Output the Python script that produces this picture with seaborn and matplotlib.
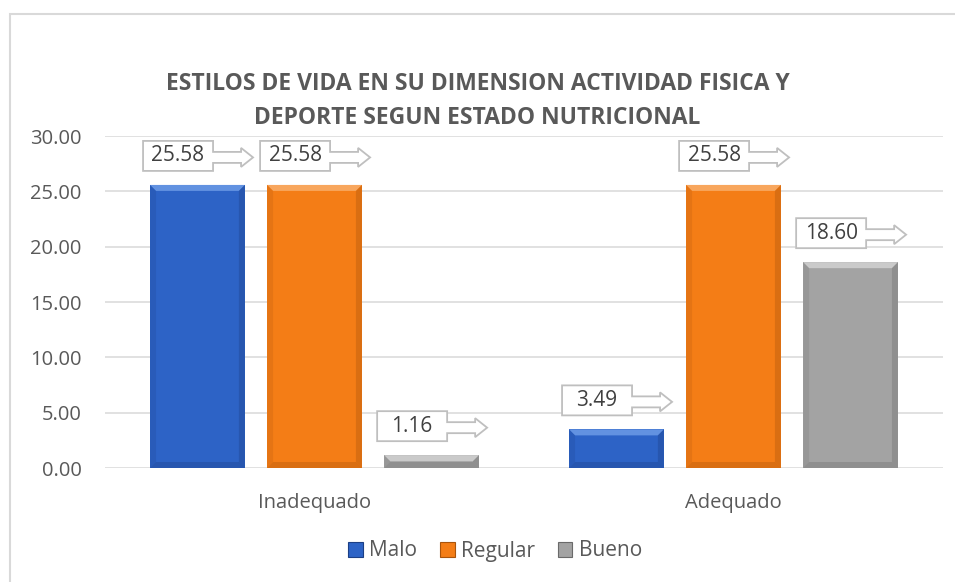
import matplotlib
matplotlib.use("Agg")
import matplotlib.pyplot as plt
import matplotlib.transforms as mtransforms
from matplotlib.patches import Polygon, Rectangle, Patch
import seaborn as sns
import pandas as pd
import numpy as np

# -------------------------------
# Data
categorias = ["Inadequado", "Adequado"]
niveles = ["Malo", "Regular", "Bueno"]
malo = [25.58, 3.49]
regular = [25.58, 25.58]
bueno = [1.16, 18.60]
y_ticks = [0, 5, 10, 15, 20, 25, 30]
titulo = "ESTILOS DE VIDA EN SU DIMENSION ACTIVIDAD FISICA Y\nDEPORTE SEGUN ESTADO NUTRICIONAL"

colores = {"Malo": "#2D63C6", "Regular": "#F47D16", "Bueno": "#A3A3A3"}
claros = {"Malo": "#6C9BE6", "Regular": "#F9AE6A", "Bueno": "#D2D2D2"}
oscuros = {"Malo": "#1C3F85", "Regular": "#A9540C", "Bueno": "#6A6A6A"}

df = pd.DataFrame({
    "categoria": categorias * 3,
    "nivel": [n for n in niveles for _ in categorias],
    "valor": malo + regular + bueno,
})

# -------------------------------
sns.set_style("white")
plt.rcParams["font.family"] = ["Open Sans", "DejaVu Sans"]
txt = "#595959"

fig = plt.figure(figsize=(9.55, 5.82), dpi=100)
ax = fig.add_axes([105 / 955, 1 - 468 / 582, 838 / 955, 332 / 582])

sns.barplot(data=df, x="categoria", y="valor", hue="nivel", order=categorias,
            hue_order=niveles, palette=colores, width=0.838, gap=0.19,
            legend=False, ax=ax, saturation=1, linewidth=0)

ax.set_ylim(0, 30)
ax.set_xlim(-0.5, 1.5)
ax.set_yticks(y_ticks)
ax.set_yticklabels([f"{v:.2f}" for v in y_ticks])
ax.grid(axis="y", color="#D9D9D9", linewidth=1.1)
ax.set_axisbelow(True)
for s in ax.spines.values():
    s.set_visible(False)
ax.tick_params(axis="y", length=0, pad=17, labelsize=14.5, labelcolor=txt)
ax.tick_params(axis="x", length=0, pad=18, labelsize=14.5, labelcolor=txt)
ax.set_xlabel("")
ax.set_ylabel("")

# -------------------------------
# bevel effect + callout labels
fig.canvas.draw()
px_x = 1 / (ax.transData.transform((1, 0))[0] - ax.transData.transform((0, 0))[0])
px_y = 1 / (ax.transData.transform((0, 1))[1] - ax.transData.transform((0, 0))[1])

bars = ax.patches
for i, p in enumerate(bars):
    nivel = niveles[i // len(categorias)]
    x0, w, h = p.get_x(), p.get_width(), p.get_height()
    x1 = x0 + w
    bx = 6 * px_x
    by = min(6 * px_y, h / 2)
    top = [(x0, h), (x1, h), (x1 - bx, h - by), (x0 + bx, h - by)]
    bot = [(x0, 0), (x1, 0), (x1 - bx, by), (x0 + bx, by)]
    left = [(x0, 0), (x0 + bx, by), (x0 + bx, h - by), (x0, h)]
    right = [(x1, 0), (x1 - bx, by), (x1 - bx, h - by), (x1, h)]
    ax.add_patch(Polygon(top, closed=True, color=claros[nivel], lw=0, alpha=0.85))
    ax.add_patch(Polygon(bot, closed=True, color=oscuros[nivel], lw=0, alpha=0.35))
    ax.add_patch(Polygon(left, closed=True, color=oscuros[nivel], lw=0, alpha=0.2))
    ax.add_patch(Polygon(right, closed=True, color=oscuros[nivel], lw=0, alpha=0.35))

    # callout shape (pixel offsets from bar top-left corner)
    forma = [(-7, 14), (63, 14), (63, 22), (91, 22), (91, 18), (103, 27.5),
             (91, 37), (91, 33), (63, 33), (63, 44), (-7, 44)]
    tr = mtransforms.Affine2D().scale(fig.dpi / 100) + \
        mtransforms.ScaledTranslation(x0, h, ax.transData)
    ax.add_patch(Polygon(forma, closed=True, facecolor="white", edgecolor="#BFBFBF",
                         lw=1.3, transform=tr, clip_on=False, zorder=5))
    ax.annotate(f"{h:.2f}", xy=(x0, h), xytext=(28 * 0.72, 29 * 0.72),
                textcoords="offset points", ha="center", va="center",
                fontsize=15, color="#404040", zorder=6)

# -------------------------------
# title, legend, frame
fig.text(0.5, 1 - 101 / 582, titulo, ha="center", va="center", fontsize=16.5,
         fontweight="bold", color=txt, linespacing=1.55,
         family=["Liberation Sans Narrow", "Open Sans", "DejaVu Sans"])

handles = [Patch(facecolor=colores[n], edgecolor=oscuros[n], linewidth=0.8) for n in niveles]
fig.legend(handles, niveles, loc="center", bbox_to_anchor=(495 / 955, 1 - 551 / 582),
           ncol=3, frameon=False, fontsize=15, labelcolor=txt, handlelength=0.7,
           handleheight=0.7, handletextpad=0.3, columnspacing=1.1)

fig.patches.append(Rectangle((10 / 955, -0.02), 1.0, 1 - 14 / 582 + 0.02, fill=False,
                             edgecolor="#D9D9D9", linewidth=1.5,
                             transform=fig.transFigure, figure=fig))

fig.savefig("out.png", dpi=100)
